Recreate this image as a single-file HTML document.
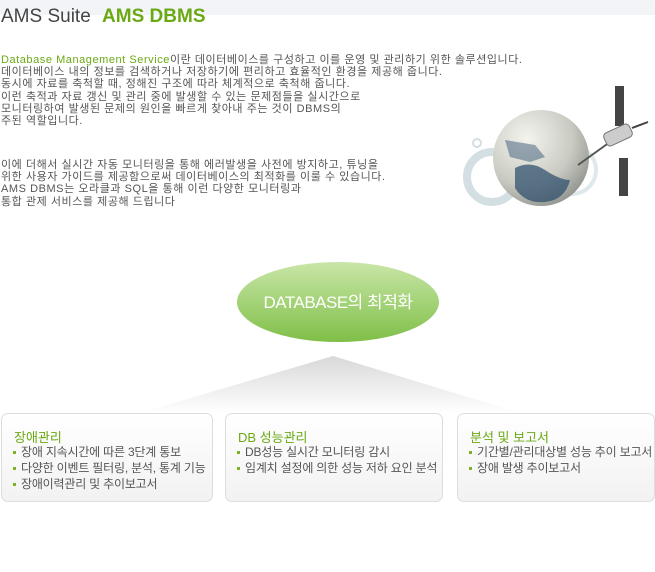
<!DOCTYPE html>
<html><head><meta charset="utf-8"><style>
body{margin:0;width:655px;height:572px;background:#fff;position:relative;overflow:hidden;font-family:"Liberation Sans","Noto Sans CJK KR",sans-serif;}
.hd{position:absolute;left:0;top:0;width:655px;height:15px;background:#f3f4f7;}
.t{position:absolute;left:1px;top:6px;font-size:19px;color:#444;white-space:nowrap;}
.t b{color:#6aa914;margin-left:6px;}
.p{position:absolute;left:1px;font-size:11px;line-height:12.2px;color:#555;white-space:nowrap;letter-spacing:0.55px;}
.g{color:#6aa914;}
.box{position:absolute;top:413px;height:89px;border:1px solid #ddd;border-radius:7px;background:linear-gradient(#fff,#f2f2f2);box-sizing:border-box;}
.box h4{margin:0;position:absolute;left:12px;top:13px;font-size:13px;font-weight:normal;color:#6aa914;}
.box ul{margin:0;padding:0;list-style:none;position:absolute;left:11px;top:30px;font-size:12px;line-height:16px;color:#555;white-space:nowrap;letter-spacing:-0.2px;}
.box li:before{content:"";display:inline-block;width:3px;height:3px;background:#7ab32a;margin-right:5px;vertical-align:middle;}
</style></head><body>
<div class="hd"></div>
<div class="t">AMS Suite <b>AMS DBMS</b></div>
<div class="p" style="top:54px"><span class="g">Database Management Service</span>이란 데이터베이스를 구성하고 이를 운영 및 관리하기 위한 솔루션입니다.<br>데이터베이스 내의 정보를 검색하거나 저장하기에 편리하고 효율적인 환경을 제공해 줍니다.<br>동시에 자료를 축척할 때, 정해진 구조에 따라 체계적으로 축척해 줍니다.<br>이런 축적과 자료 갱신 및 관리 중에 발생할 수 있는 문제점들을 실시간으로<br>모니터링하여 발생된 문제의 원인을 빠르게 찾아내 주는 것이 DBMS의<br>주된 역할입니다.</div>
<div class="p" style="top:159px">이에 더해서 실시간 자동 모니터링을 통해 에러발생을 사전에 방지하고, 튜닝을<br>위한 사용자 가이드를 제공함으로써 데이터베이스의 최적화를 이룰 수 있습니다.<br>AMS DBMS는 오라클과 SQL을 통해 이런 다양한 모니터링과<br>통합 관제 서비스를 제공해 드립니다</div>
<svg style="position:absolute;left:0;top:0" width="655" height="572">
<defs>
<radialGradient id="gl" cx="0.35" cy="0.3" r="0.8"><stop offset="0" stop-color="#f4f4ee"/><stop offset="0.6" stop-color="#c9cbc2"/><stop offset="1" stop-color="#8a8d88"/></radialGradient>
<linearGradient id="el" x1="0" y1="0" x2="0" y2="1"><stop offset="0" stop-color="#c9e6a8"/><stop offset="1" stop-color="#7fbf48"/></linearGradient>
<linearGradient id="tr" x1="0" y1="0" x2="0" y2="1"><stop offset="0" stop-color="#d8d8d8"/><stop offset="1" stop-color="#fff"/></linearGradient>
</defs>
<circle cx="492" cy="177" r="25" fill="none" stroke="#d3dfe3" stroke-width="8"/>
<circle cx="572" cy="170" r="24" fill="none" stroke="#dfe8eb" stroke-width="4"/>
<circle cx="477" cy="143" r="4" fill="none" stroke="#d3dfe3" stroke-width="2"/>
<circle cx="541" cy="158" r="48" fill="url(#gl)"/>
<path d="M515 168q15-8 30 2t25 10q-5 20-25 22t-30-14z" fill="#2a4a6a" opacity="0.7"/>
<path d="M505 140l30 5 10 12-15 5-20-5z" fill="#3c5a78" opacity="0.5"/>
<line x1="578" y1="165" x2="610" y2="142" stroke="#555" stroke-width="2"/>
<rect x="615" y="86" width="9" height="40" fill="#444"/>
<rect x="619" y="158" width="9" height="38" fill="#444"/>
<rect x="604" y="128" width="28" height="14" rx="4" fill="#ccc" stroke="#777" transform="rotate(-25 618 135)"/>
<line x1="632" y1="128" x2="648" y2="122" stroke="#444" stroke-width="2"/>
<polygon points="333,356 140,413 520,413" fill="url(#tr)"/>
<ellipse cx="338" cy="302" rx="101" ry="40" fill="url(#el)"/>
<text x="338" y="308" text-anchor="middle" font-size="17" fill="#fff" font-family="Liberation Sans,Noto Sans CJK KR,sans-serif" letter-spacing="-0.5">DATABASE의 최적화</text>
</svg>
<div class="box" style="left:1px;width:212px"><h4>장애관리</h4><ul><li>장애 지속시간에 따른 3단계 통보</li><li>다양한 이벤트 필터링, 분석, 통계 기능</li><li>장애이력관리 및 추이보고서</li></ul></div>
<div class="box" style="left:225px;width:218px"><h4>DB 성능관리</h4><ul><li>DB성능 실시간 모니터링 감시</li><li>임계치 설정에 의한 성능 저하 요인 분석</li></ul></div>
<div class="box" style="left:457px;width:198px"><h4>분석 및 보고서</h4><ul><li>기간별/관리대상별 성능 추이 보고서</li><li>장애 발생 추이보고서</li></ul></div>
</body></html>
